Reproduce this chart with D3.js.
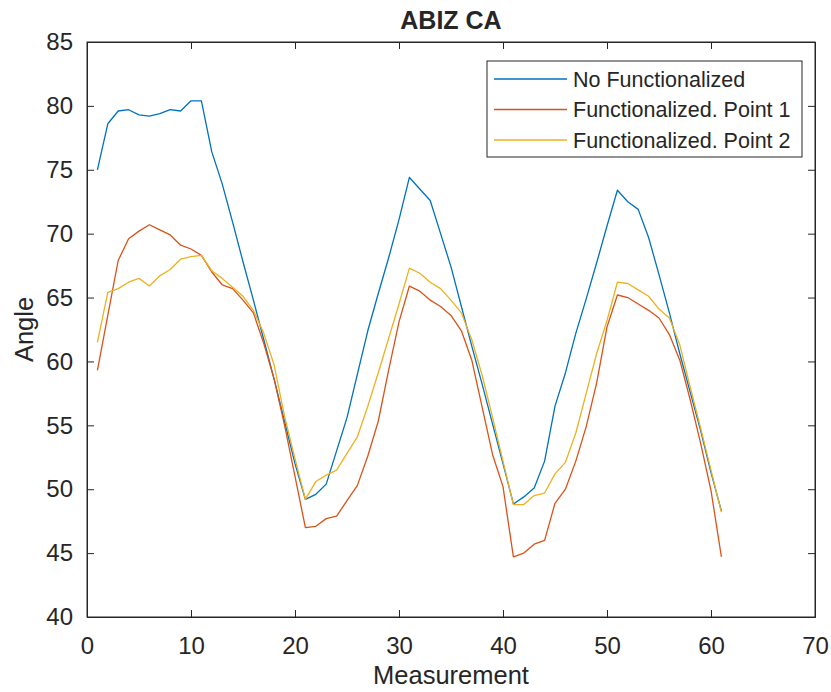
<!DOCTYPE html>
<html>
<head>
<meta charset="utf-8">
<script src="https://cdn.jsdelivr.net/npm/d3@7"></script>
<style>
  body { margin: 0; background: #fff; }
  svg text { font-family: "Liberation Sans", Arial, sans-serif; fill: #262626; }
</style>
</head>
<body>
<div id="chart-area"></div>
<script>
// measurement index 1..61
const measurements = d3.range(1, 62);

const noFunc = [
  75.0, 78.6, 79.6, 79.7, 79.3, 79.2, 79.4, 79.7, 79.6, 80.4,
  80.4, 76.4, 73.9, 70.9, 67.8, 64.8, 61.7, 58.6, 55.3, 52.0,
  49.2, 49.6, 50.4, 53.0, 55.6, 59.0, 62.4, 65.3, 68.1, 71.1,
  74.4, 73.5, 72.6, 70.0, 67.4, 64.3, 61.2, 58.2, 55.1, 52.0,
  48.85, 49.4, 50.1, 52.2, 56.5, 59.1, 62.2, 64.9, 67.7, 70.6,
  73.4, 72.5, 71.9, 69.7, 66.8, 63.8, 60.6, 57.6, 54.6, 51.3,
  48.3
];

const funcPoint1 = [
  59.3, 63.6, 67.9, 69.6, 70.2, 70.7, 70.3, 69.9, 69.1, 68.8,
  68.3, 67.0, 66.0, 65.7, 64.8, 63.8, 61.4, 58.6, 55.0, 51.0,
  47.0, 47.1, 47.7, 47.9, 49.1, 50.3, 52.6, 55.3, 59.3, 63.1,
  65.9, 65.5, 64.8, 64.3, 63.6, 62.4, 60.1, 56.4, 52.7, 50.2,
  44.7, 45.0, 45.7, 46.0, 48.9, 50.0, 52.2, 54.9, 58.3, 62.7,
  65.2, 65.0, 64.5, 64.0, 63.4, 62.1, 60.1, 57.0, 53.6, 49.9,
  44.7
];

const funcPoint2 = [
  61.5, 65.4, 65.7, 66.2, 66.5, 65.9, 66.7, 67.2, 68.0, 68.2,
  68.3, 67.1, 66.5, 65.8, 65.1, 64.0, 62.2, 59.7, 55.7, 52.4,
  49.2, 50.6, 51.1, 51.5, 52.8, 54.1, 56.5, 59.1, 61.8, 64.5,
  67.3, 66.9, 66.2, 65.7, 64.8, 63.8, 61.7, 58.9, 55.6, 52.2,
  48.8, 48.8, 49.5, 49.7, 51.2, 52.1, 54.4, 57.5, 60.6, 63.2,
  66.2, 66.1, 65.6, 65.1, 64.1, 63.4, 61.3, 58.0, 54.8, 51.5,
  48.2
];

const seriesNames = ["No Functionalized", "Functionalized. Point 1", "Functionalized. Point 2"];
const colors = ["#0072BD", "#D95319", "#EDB120"];
const xTicks = [0, 10, 20, 30, 40, 50, 60, 70];
const yTicks = [40, 45, 50, 55, 60, 65, 70, 75, 80, 85];

const margin = { top: 42, right: 16, bottom: 75, left: 87 };
const width = 831 - margin.left - margin.right;
const height = 692 - margin.top - margin.bottom;

const svg = d3.select("#chart-area")
  .append("svg")
  .attr("width", 831)
  .attr("height", 692);

const g = svg.append("g")
  .attr("transform", `translate(${margin.left}, ${margin.top})`);

const x = d3.scaleLinear().domain([0, 70]).range([0, width]);
const y = d3.scaleLinear().domain([40, 85]).range([height, 0]);

// box
g.append("rect")
  .attr("width", width)
  .attr("height", height)
  .attr("fill", "none")
  .attr("stroke", "#262626")
  .attr("stroke-width", 1);

// axes with inward ticks (matlab style)
g.append("g")
  .attr("transform", `translate(0, ${height})`)
  .call(d3.axisBottom(x).tickValues(xTicks).tickSize(-7).tickPadding(20));

g.append("g")
  .call(d3.axisLeft(y).tickValues(yTicks).tickSize(-7).tickPadding(14));

g.append("g")
  .call(d3.axisTop(x).tickValues(xTicks).tickSize(-7).tickFormat(""));

g.append("g")
  .attr("transform", `translate(${width}, 0)`)
  .call(d3.axisRight(y).tickValues(yTicks).tickSize(-7).tickFormat(""));

g.selectAll(".domain").attr("stroke", "#262626");
g.selectAll(".tick line").attr("stroke", "#262626");
g.selectAll(".tick text")
  .attr("font-size", "24px")
  .attr("font-family", "'Liberation Sans', Arial, sans-serif")
  .attr("fill", "#262626");

// lines
const line = d3.line()
  .x((d, i) => x(measurements[i]))
  .y(d => y(d));

[noFunc, funcPoint1, funcPoint2].forEach((values, k) => {
  g.append("path")
    .datum(values)
    .attr("fill", "none")
    .attr("stroke", colors[k])
    .attr("stroke-width", 1.3)
    .attr("stroke-linejoin", "round")
    .attr("d", line);
});

// title and labels
svg.append("text")
  .attr("x", margin.left + width / 2)
  .attr("y", 29)
  .attr("text-anchor", "middle")
  .attr("font-size", "25px")
  .attr("font-weight", "bold")
  .attr("fill", "#000")
  .text("ABIZ CA");

svg.append("text")
  .attr("x", margin.left + width / 2)
  .attr("y", 684)
  .attr("text-anchor", "middle")
  .attr("font-size", "25.5px")
  .text("Measurement");

svg.append("text")
  .attr("transform", `translate(33, ${margin.top + height / 2}) rotate(-90)`)
  .attr("text-anchor", "middle")
  .attr("font-size", "25.5px")
  .text("Angle");

// legend
const legend = svg.append("g")
  .attr("transform", "translate(487, 61)");

legend.append("rect")
  .attr("width", 315)
  .attr("height", 96)
  .attr("fill", "#fff")
  .attr("stroke", "#262626")
  .attr("stroke-width", 1);

seriesNames.forEach((name, k) => {
  const rowY = 18 + k * 30.5;
  legend.append("line")
    .attr("x1", 7).attr("x2", 80)
    .attr("y1", rowY).attr("y2", rowY)
    .attr("stroke", colors[k])
    .attr("stroke-width", 1.3);
  legend.append("text")
    .attr("x", 86)
    .attr("y", rowY)
    .attr("dy", "0.35em")
    .attr("font-size", "21.5px")
    .text(name);
});
</script>
</body>
</html>
